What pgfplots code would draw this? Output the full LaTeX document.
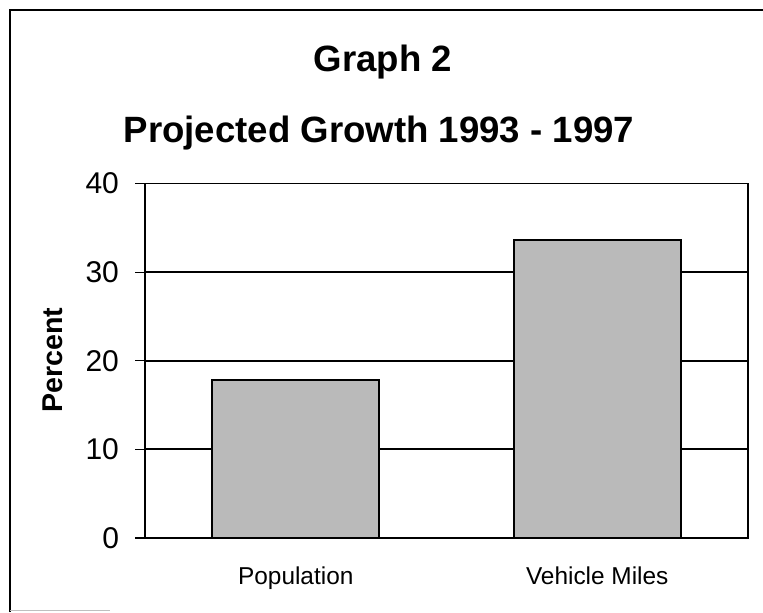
\documentclass[border=0pt]{standalone}
\usepackage{pgfplots}
\pgfplotsset{compat=1.18}
\usepackage{fontspec}
\setmainfont{Liberation Sans}
\begin{document}
\begin{tikzpicture}[x=0.5pt,y=0.5pt]
\useasboundingbox (0,0) rectangle (763,612);
\draw[line width=1pt] (10,0) -- (10,602) -- (763,602);
\draw[gray!50, line width=0.5pt] (10,2) -- (110,2);
\node[font=\bfseries\fontsize{18.3}{20}\selectfont, anchor=base] at (383,541) {Graph 2};
\node[font=\bfseries\fontsize{18.3}{20}\selectfont, anchor=base] at (379,470) {Projected Growth 1993 - 1997};
\node[rotate=90, font=\bfseries\fontsize{14.3}{16}\selectfont] at (53,252) {Percent};
\begin{axis}[at={(72.5pt,37pt)}, anchor=south west, scale only axis,
  width=301.5pt, height=177.25pt,
  ybar, bar width=83.5pt,
  xmin=-0.5, xmax=1.5, ymin=0, ymax=40,
  ytick={0,10,20,30,40},
  xtick={0,1}, xticklabels={Population,Vehicle Miles},
  major x tick style={draw=none},
  extra x ticks={-0.5,0.5,1.5}, extra x tick labels={},
  extra x tick style={major tick style={draw=black, line width=0.6pt}, major tick length=4pt},
  xtick pos=bottom, ytick pos=left,
  tick align=outside, major tick length=5pt,
  ytick style={draw=black, line width=0.6pt},
  ymajorgrids, grid style={black, line width=0.9pt},
  axis line style={black, line width=0.6pt},
  /pgf/number format/assume math mode=true,
  yticklabel style={font=\fontsize{15}{17}\selectfont, xshift=-4.5pt},
  xticklabel style={font=\fontsize{12.2}{14}\selectfont, yshift=-6pt},
]
\addplot[fill=black!27, draw=black, line width=1pt] coordinates {(0,17.8) (1,33.6)};
\end{axis}
\end{tikzpicture}
\end{document}
